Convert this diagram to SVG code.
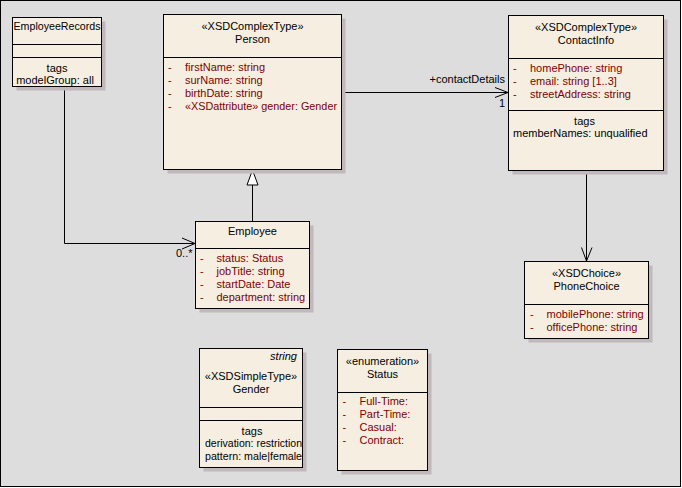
<svg xmlns="http://www.w3.org/2000/svg" width="682" height="488" viewBox="0 0 682 488">
<style>
text{font-family:"Liberation Sans",Arial,sans-serif;font-size:11px;fill:#000}
.c{text-anchor:middle}
.a{fill:#800000}
.box{fill:#f6efe1;stroke:#000;stroke-width:1}
.sh{fill:#c0b8ba}
.ln{stroke:#000;stroke-width:1;fill:none}
.conn{stroke:#000;stroke-width:1;fill:none}
</style>
<defs>
<clipPath id="gclip"><rect x="200" y="349" width="102.5" height="118"/></clipPath>
</defs>
<rect x="0" y="0" width="682" height="488" fill="#ffffff"/>
<rect x="0.5" y="0.5" width="680" height="486" fill="#dddddd" stroke="#000"/>

<g id="connectors">
<path class="conn" d="M64.5,87 V243.5 H195"/>
<path class="conn" d="M182,238 L195,243.5 L182,249"/>
<text x="176" y="257">0..*</text>
<path class="conn" d="M341.5,92.5 H508"/>
<path class="conn" d="M495,87.5 L508,92.5 L495,97.5"/>
<text x="505" y="83" text-anchor="end">+contactDetails</text>
<text x="499" y="107">1</text>
<path class="conn" d="M252.5,185 V221.5"/>
<polygon points="252.5,170 247,185 258,185" fill="#ffffff" stroke="#000"/>
<path class="conn" d="M586.5,170.5 V261"/>
<path class="conn" d="M581.5,247.5 L586.5,261 L592,247.5"/>
</g>

<g id="EmployeeRecords">
<rect class="sh" x="16.5" y="21.5" width="89" height="69"/>
<rect class="box" x="12.5" y="17.5" width="89" height="69"/>
<line class="ln" x1="12.5" y1="44.5" x2="101.5" y2="44.5"/>
<line class="ln" x1="12.5" y1="57.5" x2="101.5" y2="57.5"/>
<text class="c" x="57" y="30" textLength="87" lengthAdjust="spacingAndGlyphs">EmployeeRecords</text>
<text class="c" x="57" y="72">tags</text>
<text class="c" x="55" y="84">modelGroup: all</text>
</g>

<g id="Person">
<rect class="sh" x="167.5" y="18.5" width="178" height="155"/>
<rect class="box" x="163.5" y="14.5" width="178" height="155"/>
<line class="ln" x1="163.5" y1="57.5" x2="341.5" y2="57.5"/>
<text class="c" x="252.5" y="30">«XSDComplexType»</text>
<text class="c" x="252.5" y="43">Person</text>
<text class="a" x="168" y="71">-</text><text class="a" x="185" y="71">firstName: string</text>
<text class="a" x="168" y="84">-</text><text class="a" x="185" y="84">surName: string</text>
<text class="a" x="168" y="97">-</text><text class="a" x="185" y="97">birthDate: string</text>
<text class="a" x="168" y="110">-</text><text class="a" x="185" y="110" textLength="152" lengthAdjust="spacingAndGlyphs">«XSDattribute» gender: Gender</text>
</g>

<g id="ContactInfo">
<rect class="sh" x="512.5" y="19.5" width="155" height="155"/>
<rect class="box" x="508.5" y="15.5" width="155" height="155"/>
<line class="ln" x1="508.5" y1="58.5" x2="663.5" y2="58.5"/>
<line class="ln" x1="508.5" y1="110.5" x2="663.5" y2="110.5"/>
<text class="c" x="586" y="31">«XSDComplexType»</text>
<text class="c" x="586" y="44">ContactInfo</text>
<text class="a" x="513" y="72">-</text><text class="a" x="530" y="72">homePhone: string</text>
<text class="a" x="513" y="85">-</text><text class="a" x="530" y="85">email: string [1..3]</text>
<text class="a" x="513" y="98">-</text><text class="a" x="530" y="98">streetAddress: string</text>
<text class="c" x="584.5" y="125">tags</text>
<text x="513" y="137">memberNames: unqualified</text>
</g>

<g id="Employee">
<rect class="sh" x="199.5" y="225.5" width="114" height="87"/>
<rect class="box" x="195.5" y="221.5" width="114" height="87"/>
<line class="ln" x1="195.5" y1="248.5" x2="309.5" y2="248.5"/>
<text class="c" x="252.5" y="235">Employee</text>
<text class="a" x="200" y="262">-</text><text class="a" x="216.5" y="262">status: Status</text>
<text class="a" x="200" y="275">-</text><text class="a" x="216.5" y="275">jobTitle: string</text>
<text class="a" x="200" y="288">-</text><text class="a" x="216.5" y="288">startDate: Date</text>
<text class="a" x="200" y="301">-</text><text class="a" x="216.5" y="301">department: string</text>
</g>

<g id="PhoneChoice">
<rect class="sh" x="528.5" y="265.5" width="124" height="77"/>
<rect class="box" x="524.5" y="261.5" width="124" height="77"/>
<line class="ln" x1="524.5" y1="304.5" x2="648.5" y2="304.5"/>
<text class="c" x="586.5" y="277">«XSDChoice»</text>
<text class="c" x="586.5" y="290">PhoneChoice</text>
<text class="a" x="530" y="318">-</text><text class="a" x="546.5" y="318">mobilePhone: string</text>
<text class="a" x="530" y="331">-</text><text class="a" x="546.5" y="331">officePhone: string</text>
</g>

<g id="Gender">
<rect class="sh" x="203.5" y="352.5" width="103" height="119"/>
<rect class="box" x="199.5" y="348.5" width="103" height="119"/>
<line class="ln" x1="199.5" y1="407.5" x2="302.5" y2="407.5"/>
<line class="ln" x1="199.5" y1="420.5" x2="302.5" y2="420.5"/>
<text x="297" y="360" text-anchor="end" font-style="italic">string</text>
<text class="c" x="251" y="380">«XSDSimpleType»</text>
<text class="c" x="251" y="393">Gender</text>
<text class="c" x="252" y="435">tags</text>
<g clip-path="url(#gclip)">
<text x="205" y="447" textLength="97" lengthAdjust="spacingAndGlyphs">derivation: restriction</text>
<text x="205" y="460" textLength="97" lengthAdjust="spacingAndGlyphs">pattern: male|female</text>
</g>
</g>

<g id="Status">
<rect class="sh" x="341.5" y="353.5" width="90" height="121"/>
<rect class="box" x="337.5" y="349.5" width="90" height="121"/>
<line class="ln" x1="337.5" y1="392.5" x2="427.5" y2="392.5"/>
<text class="c" x="382.5" y="365">«enumeration»</text>
<text class="c" x="382.5" y="378">Status</text>
<text class="a" x="342.5" y="405">-</text><text class="a" x="359.5" y="405">Full-Time:</text>
<text class="a" x="342.5" y="418">-</text><text class="a" x="359.5" y="418">Part-Time:</text>
<text class="a" x="342.5" y="431">-</text><text class="a" x="359.5" y="431">Casual:</text>
<text class="a" x="342.5" y="444">-</text><text class="a" x="359.5" y="444">Contract:</text>
</g>
</svg>
